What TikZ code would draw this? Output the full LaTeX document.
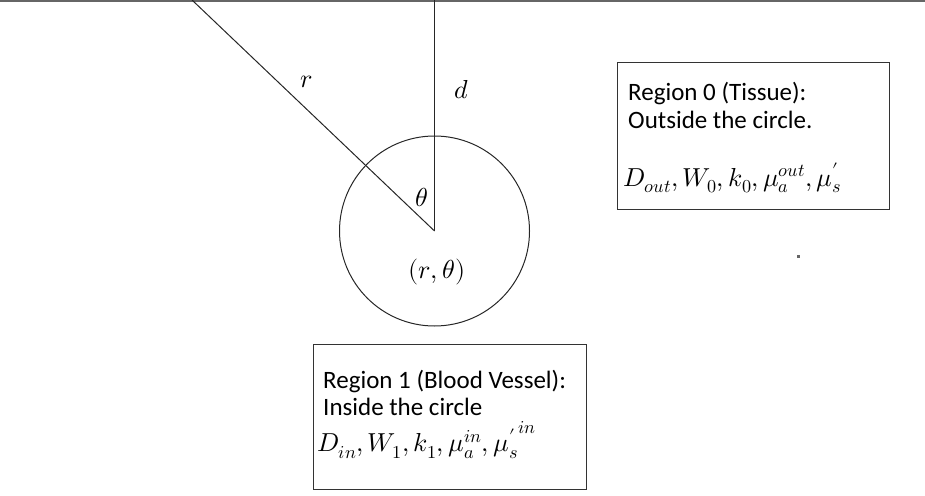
\documentclass[tikz,border=0pt]{standalone}
\usepackage{fontspec}
\usepackage{unicode-math}
\setmainfont{Carlito}
\setmathfont{Latin Modern Math}
\begin{document}
\begin{tikzpicture}[x=1pt,y=-1pt,
  ln/.style={line width=1pt, draw=black!85},
  box/.style={draw=black!80, line width=1pt},
  txt/.style={font=\fontsize{25}{30}\selectfont, inner sep=0pt, anchor=west},
  mth/.style={font=\fontsize{26}{30}\selectfont, inner sep=0pt, anchor=west},
  lab/.style={font=\fontsize{26}{30}\selectfont, inner sep=0pt}]
\useasboundingbox (0,0) rectangle (925,495);
% surface line
\coordinate (sl) at (0,1);
\coordinate (sr) at (925,1);
\draw[line width=1.2pt, draw=black!60] (sl) -- (sr);
% circle and radii
\coordinate (c) at (434.5,231);
\coordinate (rt) at (192,0);
\coordinate (dt) at (434.5,0);
\node[circle, draw=black!85, line width=1pt, minimum size=190pt, inner sep=0pt] (circ) at (c) {};
\draw[ln] (rt) -- (c);
\draw[ln] (dt) -- (c);
% labels
\node[lab] (lr) at (307,82) {$r$};
\node[lab] (ld) at (462,90) {$d$};
\node[lab] (lt) at (422,197) {$\theta$};
\node[lab] (lrt) at (437,272) {$(r,\theta)$};
% region 0 box
\draw[box] (617,62) rectangle (889,209);
\node[txt] (r0a) at (628,94) {Region 0 (Tissue):};
\node[txt] (r0b) at (628,120) {Outside the circle.};
\node[mth] (r0c) at (623,178) {$D_{out}, W_0, k_0, \mu_a^{out}, \mu'_s$};
% region 1 box
\draw[box] (313,344) rectangle (586,489);
\node[txt] (r1a) at (323,381) {Region 1 (Blood Vessel):};
\node[txt] (r1b) at (323,407) {Inside the circle};
\node[mth] (r1c) at (317,440) {$D_{in}, W_1, k_1, \mu_a^{in}, {\mu'_s}^{in}$};
% small dot
\fill[black!60] (797,255) rectangle (799.5,257.5);
\end{tikzpicture}
\end{document}
